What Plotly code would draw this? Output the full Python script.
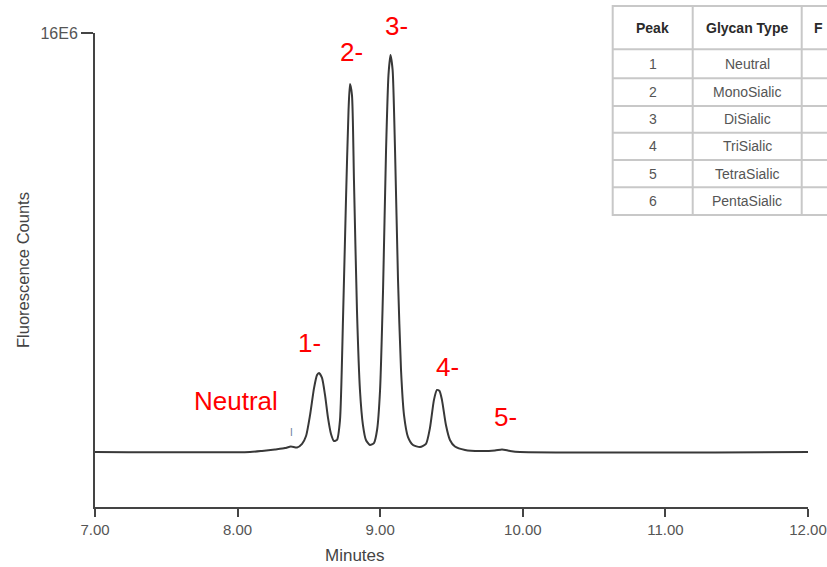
import plotly.graph_objects as go

# Chromatogram trace (minutes, fluorescence counts in millions)
minutes = [7.00, 8.087, 8.171, 8.262, 8.332, 8.374, 8.417, 8.452, 8.480, 8.508, 8.536, 8.557,
           8.571, 8.592, 8.613, 8.634, 8.655, 8.676, 8.697, 8.718, 8.739, 8.760, 8.778, 8.788,
           8.802, 8.816, 8.837, 8.858, 8.879, 8.900, 8.928, 8.956, 8.978, 8.999, 9.020, 9.041,
           9.058, 9.072, 9.087, 9.104, 9.125, 9.146, 9.167, 9.195, 9.230, 9.279, 9.321, 9.349,
           9.377, 9.398, 9.416, 9.433, 9.461, 9.489, 9.524, 9.595, 9.700, 9.805, 9.854, 9.910,
           9.980, 12.00]
counts_e6 = [0.00, 0.00, 0.04, 0.10, 0.15, 0.21, 0.17, 0.31, 0.61, 1.41, 2.44, 2.94,
             3.02, 2.83, 2.18, 1.30, 0.69, 0.42, 0.46, 1.22, 5.04, 9.62, 13.06, 14.05,
             13.63, 10.39, 5.42, 2.37, 1.03, 0.46, 0.27, 0.34, 0.84, 2.37, 6.19, 11.53,
             14.39, 15.16, 14.59, 11.53, 6.57, 3.13, 1.41, 0.57, 0.27, 0.19, 0.31, 0.92,
             1.99, 2.37, 2.33, 1.99, 1.03, 0.46, 0.21, 0.08, 0.04, 0.06, 0.10, 0.04,
             0.00, 0.00]

# Peak labels (text, minutes, counts E6)
peak_labels = ["Neutral", "1-", "2-", "3-", "4-", "5-"]
label_min = [7.989, 8.501, 8.802, 9.114, 9.475, 9.882]
label_val = [1.95, 4.18, 15.27, 16.27, 3.26, 1.35]

# Axis ticks
x_ticks = [7, 8, 9, 10, 11, 12]
x_ticktext = ["7.00", "8.00", "9.00", "10.00", "11.00", "12.00"]
y_ticks = [16]
y_ticktext = ["16E6"]

# Table
table_peak = ["1", "2", "3", "4", "5", "6"]
table_type = ["Neutral", "MonoSialic", "DiSialic", "TriSialic", "TetraSialic", "PentaSialic"]
table_header = ["Peak", "Glycan Type", "F"]

FONT = "Liberation Sans, Arial, sans-serif"

W, H = 827, 567
L, R, T, B = 95, 808, 33, 507
Y_RANGE = [-2.1, 16]


def px(x):
    return (x - L) / (R - L)


def py(y):
    return (B - y) / (B - T)


def yv_paper(v):
    return (v - Y_RANGE[0]) / (Y_RANGE[1] - Y_RANGE[0])


fig = go.Figure()
fig.add_trace(go.Scatter(
    x=minutes, y=counts_e6, mode="lines",
    line=dict(color="#383838", width=2, shape="spline", smoothing=0.6),
    hoverinfo="skip", showlegend=False,
))

annotations = []
for t, xm, yv in zip(peak_labels, label_min, label_val):
    annotations.append(dict(x=xm, y=yv_paper(yv), xref="x", yref="paper", text=t, showarrow=False,
                            font=dict(family=FONT, size=26, color="#ff0000"),
                            xanchor="center", yanchor="middle"))
# small marker near 8.37
annotations.append(dict(x=8.375, y=yv_paper(0.75), xref="x", yref="paper", text="I", showarrow=False,
                        font=dict(family=FONT, size=10, color="#6a7f99"),
                        xanchor="center", yanchor="middle"))
# axis titles
annotations.append(dict(x=px(355), y=py(555), xref="paper", yref="paper", text="Minutes",
                        showarrow=False, font=dict(family=FONT, size=17, color="#444"),
                        xanchor="center", yanchor="middle"))
annotations.append(dict(x=px(23), y=0.5, xref="paper", yref="paper", text="Fluorescence Counts",
                        showarrow=False, textangle=-90,
                        font=dict(family=FONT, size=16.5, color="#444"),
                        xanchor="center", yanchor="middle"))

# table
shapes = []
tx0, tx1, tx2, tx_end = 612.7, 692.7, 801.7, 840
ty_top, ty_head = 6, 49.3
row_lines = [78.3, 106, 132.7, 160, 187.3, 215]
line_col = "#c8c8c8"
shapes.append(dict(type="rect", xref="paper", yref="paper", x0=px(tx0), x1=px(tx_end),
                   y0=py(215), y1=py(ty_top), line=dict(color=line_col, width=2),
                   fillcolor="white", layer="above"))
for yy in [ty_head] + row_lines[:-1]:
    shapes.append(dict(type="line", xref="paper", yref="paper", x0=px(tx0), x1=px(tx_end),
                       y0=py(yy), y1=py(yy), line=dict(color=line_col, width=2)))
for xx in [tx1, tx2]:
    shapes.append(dict(type="line", xref="paper", yref="paper", x0=px(xx), x1=px(xx),
                       y0=py(215), y1=py(ty_top), line=dict(color=line_col, width=2)))

col_centers = [(tx0 + tx1) / 2, (tx1 + tx2) / 2]
head_y = py((ty_top + ty_head) / 2)
annotations.append(dict(x=px(col_centers[0]), y=head_y, xref="paper", yref="paper",
                        text="<b>%s</b>" % table_header[0], showarrow=False,
                        font=dict(family=FONT, size=14, color="#2a2a2a"), xanchor="center", yanchor="middle"))
annotations.append(dict(x=px(col_centers[1]), y=head_y, xref="paper", yref="paper",
                        text="<b>%s</b>" % table_header[1], showarrow=False,
                        font=dict(family=FONT, size=14, color="#2a2a2a"), xanchor="center", yanchor="middle"))
annotations.append(dict(x=px(812), y=head_y, xref="paper", yref="paper",
                        text="<b>%s</b>" % table_header[2], showarrow=False,
                        font=dict(family=FONT, size=14, color="#2a2a2a"), xanchor="left", yanchor="middle"))
row_bounds = [ty_head] + row_lines
for i, (pk, gt) in enumerate(zip(table_peak, table_type)):
    yc = (row_bounds[i] + row_bounds[i + 1]) / 2
    annotations.append(dict(x=px(col_centers[0]), y=py(yc), xref="paper", yref="paper", text=pk,
                            showarrow=False, font=dict(family=FONT, size=14, color="#555"),
                            xanchor="center", yanchor="middle"))
    annotations.append(dict(x=px(col_centers[1]), y=py(yc), xref="paper", yref="paper", text=gt,
                            showarrow=False, font=dict(family=FONT, size=14, color="#555"),
                            xanchor="center", yanchor="middle"))

fig.update_layout(
    width=W, height=H,
    margin=dict(l=L, r=W - R, t=T, b=H - B, pad=0, autoexpand=False),
    paper_bgcolor="white", plot_bgcolor="white",
    annotations=annotations, shapes=shapes,
    xaxis=dict(range=[7, 12], tickvals=x_ticks, ticktext=x_ticktext, showgrid=False, zeroline=False,
               showline=True, linecolor="#444", linewidth=2, ticks="outside", ticklen=8,
               tickwidth=2, tickcolor="#444", ticklabeloverflow="allow", automargin=False,
               tickfont=dict(family=FONT, size=15, color="#555")),
    yaxis=dict(range=Y_RANGE, tickvals=y_ticks, ticktext=y_ticktext, showgrid=False, zeroline=False,
               showline=True, linecolor="#444", linewidth=2, ticks="outside", ticklen=12,
               tickwidth=2, tickcolor="#444", automargin=False,
               tickfont=dict(family=FONT, size=16, color="#555")),
)

fig.write_html("out.html")
